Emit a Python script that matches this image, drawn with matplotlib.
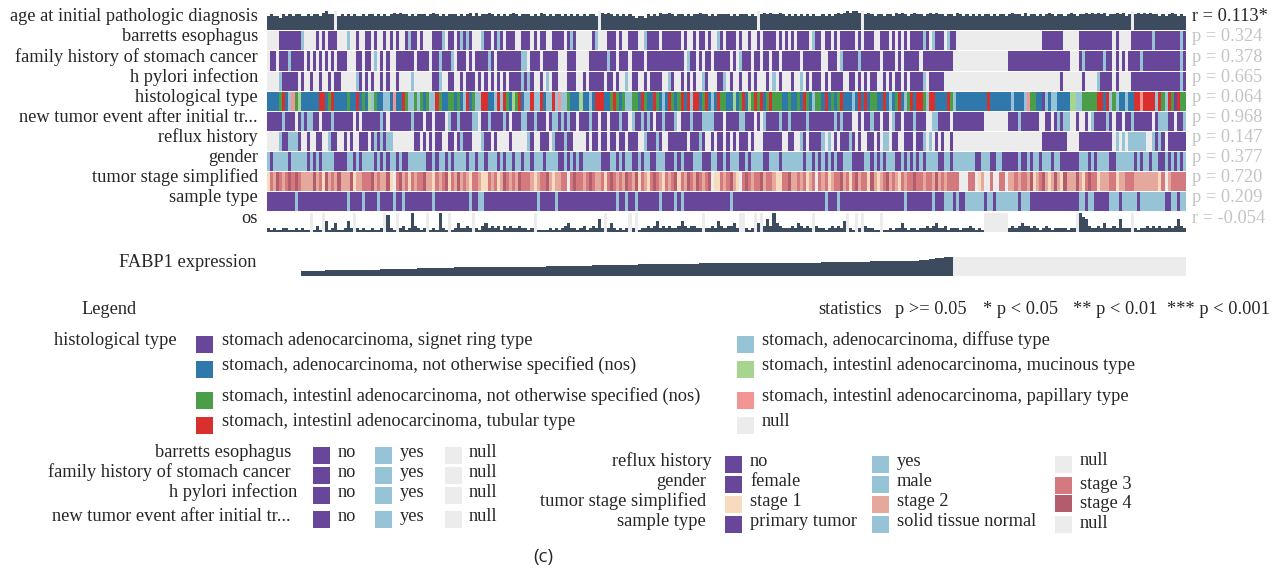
import numpy as np
import matplotlib
matplotlib.use("Agg")
import matplotlib.pyplot as plt
from matplotlib.colors import to_rgb
from matplotlib.patches import Rectangle

# ------------------------------------------------------------------
# DATA (~300 samples sorted by FABP1 expression)
# ------------------------------------------------------------------
row_labels = ["age at initial pathologic diagnosis", "barretts esophagus",
              "family history of stomach cancer", "h pylori infection",
              "histological type", "new tumor event after initial tr...",
              "reflux history", "gender", "tumor stage simplified",
              "sample type", "os"]
row_stats = ["r = 0.113*", "p = 0.324", "p = 0.378", "p = 0.665", "p = 0.064",
             "p = 0.968", "p = 0.147", "p = 0.377", "p = 0.720", "p = 0.209",
             "r = -0.054"]
row_significant = [True, False, False, False, False, False, False, False, False, False, False]

# age: relative bar height level 0-9, '.' = null
age = "".join([
    "6766576767", "7667677689", "77.6767676", "6767767676", "7878776767", "7767876767",
    "7767678686", "7787676767", "8767776768", "7676776767", "67676776.8", "7876767676",
    "5665767687", "7876776767", "7877676777", "7676777676", ".787877876", "7676767676",
    "6767678789", "8998.78767", "7677687876", "7877678787", "7677687676", "7676776767",
    "7678776867", "7676787677", "6787677878", "7878677878", "67.7878787", "7676787676"])

# binary rows: n = no, y = yes, . = null
barretts = "".join([
    "....nnnnnn", "ny....n.n.", "nnn...y..n", "..nn.n..n.", "n.n..nynn.", "n...nnny.n",
    "n.nynyn...", "ynn.nyn.nn", "n..nnn.n.n", "n..nnnn.ny", "n.....ny..", ".nnn.n..nn",
    "n..ynnnn.n", "nnnnn.n..n", ".nn.n..yn.", "nnn.n..n..", "n.nnnn.n.n", ".n.nnnn.yn",
    "n.nn.n.nnn", "nn.n.nnn..", "nnn.n.n.n.", "nnnnyn.ynn", "n.ynn.....", "..........",
    "..........", "...nnnnnnn", ".....nnnnn", "nnnnnn.n..", "..nnnnnnny", "nnnnnnnnyn"])
family = "".join([
    ".nn.nnnynn", "nn.n.n.n.n", ".n.nnn...n", "n.nn.y.n.n", "..nnnnnn.n", "nnn.nnynnn",
    "y.nnn.n.nn", "nnyn.nnnnn", "nnnyy.nnn.", "nnnnn...nn", "n....nnnnn", "nynn.nnn.n",
    "nnn.nnnnnn", "nnnnnn.ynn", ".n.nn.nnnn", "n.n.ynnn.n", "n.nn.nn.nn", "nnnn.nnnnn",
    "n..nnn.ynn", "nnnynnnnnn", ".nnnn.n.nn", "nnn.nnnnnn", "nnnn......", "..........",
    "..nnnnnnnn", "nnnnnnnnnn", "nn...nynnn", "nnnynn.n.n", ".nnnnynnnn", "nnnnnnnnyn"])
hpylori = "".join([
    "....ynnnnn", ".n..n..n..", "n.nn.....y", "n.n.n..n.n", "..n....y..", "....nny..n",
    "n..n.nnn.n", ".n.n.n.n.n", "nnnynyn..n", ".y.nn...nn", "n..n.nnnnn", ".nn.n..y.n",
    "n..n.nnnn.", ".yn..n.n.n", "..yn...nny", ".n..n..n.n", "...n.y.n..", ".n..y.n.nn",
    "n.n.nnnn..", "nn.n.n.nn.", ".n.n.nn.n.", "nnnny.nnnn", "n.........", "..........",
    "..........", ".........n", "......n...", ".ynnnn.n..", "..nnnnnnnn", "nnnnnnnnyn"])
# histology: S signet ring, N adeno NOS, D diffuse, M mucinous, I intestinal NOS,
#            P papillary, T tubular, . null
histology = "".join([
    "NNNNITNDPI", "MNNNNNNTTN", "ITNNNNINNT", "NINMDINNDD", "NPNNTIDDID", "INIDDTINNI",
    "ININDTNIDD", "TTNNDTDTIN", "MITNDDTDDT", "NDDTDPDDIN", "NNMNNDNTTT", "NNITINIDDI",
    "INTINNTIND", "NTINITNTDT", "TNITNDNTII", "NNMNITNMIT", "ITNITIIINN", "INNINTINDI",
    "INTNINITNN", "NDNTNTNIIN", "NTNDNITNDI", "TNTTIDTTNN", "NNTIDNNNNN", "NNNNNTNNNN",
    "NNNDNNNDPI", "INNSDNDDNN", "NNMMDDIIII", "ITTNTDIDNN", "DNNTTPTTTT", "DTIDTISTII"])
new_tumor = "".join([
    "nnnnnynnn.", "nynyynn.nn", "nynnnnnn.n", ".nnnnnnyn.", "nnnnnnnynn", "n.nn.nnn.y",
    "nnynnnnyy.", "nnynnnnyn.", "nnnyynnynn", "n.nyynynyn", "n.nnnynn.n", "n.nnnynn.y",
    "nnynyn.nny", "nnny.nnnyn", "nnyyyynnn.", "nnnnyynnn.", "n.ynnnnynn", "ynnnnnynnn",
    "nnnnnynynn", "n..n.nnynn", ".nn.ynn.nn", "nynnn..yyn", "nnn.nnnnnn", "nnnn......",
    "..nnnynnnn", "nn..nn.nyn", "yy..n..n.y", "nnnnyn.nn.", "nnynnnnnn.", "nyyynn.nny"])
reflux = "".join([
    "....ynnyyy", "n..n..nn..", "ynn..n.n..", "nnn.nynyny", "y.......nn", ".n.n.nn..n",
    "n.nynnn...", "ynn.n....n", ".....yn..n", "nn.ynnnynn", "....n.nn.n", "n.nn.nn.nn",
    "n..ynnnyn.", ".nnnnnn.nn", "nyn..n.nn.", "n.n.nnn.n.", "..nnnnnn..", "nn..yn.nnn",
    "ny.y.n.nnn", "yn.n..nn.n", ".yy.nn..nn", "n.nny.y.n.", "n..n......", "..........",
    "..........", "...nnnnnnn", "n....nnnnn", "nnnnnn.y.y", ".yyyyyy..y", "nyn.nnnnnn"])
# gender: f = female, m = male
gender = "".join([
    "mfmmmmmfmm", "mmmfmfmfmm", "mmffffmmfm", "fmmmmfmfmf", "mmfmffmmmm", "mmffmfmmfm",
    "fmmmmfmmfm", "mfmmmfmfmm", "fmmfmmfmmm", "fmmmmffmfm", "fmfmmmmmmf", "ffmmfmfmmf",
    "fmfmmffmmm", "fffmfmfffm", "mmfffmmffm", "fmmmffmfmm", "mmffmmmfmm", "mmmmmfmmfm",
    "fmfmfmffmm", "mffffmmfmf", "mfmmmffmfm", "fmfmfmmmmf", "fmmfmmmmmm", "mffmmmffmm",
    "fffffmffmf", "mmfmmmfmmf", "fffffmmmfm", "fmmmmffmmm", "mmmfmfmmfm", "mffmfmfmfm"])
# tumor stage simplified: 1-4, . = null
stage = "".join([
    "1324323434", "3222242314", "2324222412", "2333423224", "1.34231323", "3422132341",
    "3242321332", "1132312432", "3243332123", "34212233.3", "4332343223", "1343232432",
    "4132134321", "3234132432", "43234.1132", "3421.34323", "3423321133", "422323123.",
    "3231233423", "1342331421", "2342321323", "3433233242", "323333...3", "3.12..3..3",
    "3.22323324", "1234212421", "4222421343", "3122233122", "3332222222", "213.233333"])
# sample type: p = primary tumor, s = solid tissue normal
sample_type = "".join([
    "ppppppppps", "pppppppppp", "ppppppsppp", "psppppsppp", "psppsppppp", "ppppsppppp",
    "ppppppspps", "sppppppppp", "ppppppppsp", "ppppsppppp", "pppppppppp", "ppppsppspp",
    "spppppppsp", "pppspspppp", "pppppppppp", "pspppppppp", "pppppppppp", "pppppppppp",
    "ppspppsppp", "pppppppppp", "ppppppppsp", "pppppppspp", "pssspsppss", "sssspsspss",
    "ssssspsssp", "pppppppppp", "pppppsspss", "pppppsssps", "sssspsssss", "sssppsspss"])
# os: relative bar height level 0-9, '.' = null
os_levels = "".join([
    "2121122112", "1211.131.5", "12411252.2", "12112112.8", "21.2312932", "12.121921.",
    "1242232.21", "3423231323", "2232212.11", "1121212342", "2123123262", ".2421212.2",
    ".122323523", "2322353233", "22.2232532", "3342..212.", "4.36394322", "23243232.3",
    "221232325.", "21.2.32211", ".112122421", "2212232342", "2312221223", "2121......",
    "..23234332", "3212321222", "2122.97632", "2324223262", "22.2122323", "2322323632"])
# FABP1 expression (sorted): run-length pairs (level a..z, count); '.' = null
fabp1_runs = [("a", 11), ("g", 8), ("h", 6), ("i", 12), ("j", 12), ("k", 12),
              ("l", 15), ("m", 15), ("n", 15), ("o", 15), ("p", 20), ("q", 20),
              ("r", 20), ("s", 16), ("t", 16), ("u", 1), ("v", 2), ("w", 2),
              ("x", 3), ("y", 3), (".", 76)]

# ------------------------------------------------------------------
# STYLE
# ------------------------------------------------------------------
PURPLE = "#68479a"
LBLUE = "#96c3d6"
NULLC = "#ececec"
DARK = "#3d4b5e"
NOS = "#2e78ab"
INTC = "#4a9e48"
MUC = "#a6d58f"
PAP = "#f39595"
TUB = "#d9302e"
ST1, ST2, ST3, ST4 = "#f7dbbf", "#e5a89d", "#d4797e", "#b25c6e"
TXT = "#262626"
GREY_TXT = "#c4c4c4"

bin_cmap = {"n": PURPLE, "y": LBLUE, ".": NULLC}
hist_cmap = {"S": PURPLE, "N": NOS, "D": LBLUE, "M": MUC, "I": INTC,
             "P": PAP, "T": TUB, ".": NULLC}
gender_cmap = {"f": PURPLE, "m": LBLUE, ".": NULLC}
stage_cmap = {"1": ST1, "2": ST2, "3": ST3, "4": ST4, ".": NULLC}
sample_cmap = {"p": PURPLE, "s": LBLUE, ".": NULLC}

plt.rcParams["font.family"] = ["Liberation Serif", "DejaVu Serif"]
FS = 13.2

W, H = 1282, 573
fig = plt.figure(figsize=(W / 100, H / 100), dpi=100)

# overlay axes in pixel coordinates for texts and legend swatches
ov = fig.add_axes([0, 0, 1, 1])
ov.set_xlim(0, W)
ov.set_ylim(H, 0)
ov.set_axis_off()


def px_axes(x0, y0, x1, y1):
    ax = fig.add_axes([x0 / W, 1 - y1 / H, (x1 - x0) / W, (y1 - y0) / H])
    ax.set_axis_off()
    return ax


X0, X1 = 267, 1186


def cat_row(y0, y1, codes, cmap):
    ax = px_axes(X0, y0, X1, y1)
    rgb = np.array([to_rgb(cmap.get(c, NULLC)) for c in codes])[None, :, :]
    ax.imshow(rgb, aspect="auto", interpolation="nearest",
              extent=[0, len(codes), 0, 1])
    ax.set_xlim(0, len(codes))
    ax.set_ylim(0, 1)


def bar_row(y0, y1, levels, base=0.0, step=1 / 9.0):
    ax = px_axes(X0, y0, X1, y1)
    idx = np.arange(len(levels))
    null = np.array([c == "." for c in levels])
    h = np.array([0 if c == "." else min(1.0, base + int(c) * step) for c in levels])
    ax.bar(idx[null], np.ones(null.sum()), width=1.0, align="edge",
           color=NULLC, linewidth=0, antialiased=False)
    ax.bar(idx[~null], h[~null], width=1.0, align="edge",
           color=DARK, linewidth=0, antialiased=False)
    ax.set_xlim(0, len(levels))
    ax.set_ylim(0, 1)


# rows geometry (pixel)
age_box = (11, 30)
cat_rows = [barretts, family, hpylori, histology, new_tumor, reflux,
            gender, stage, sample_type]
cat_maps = [bin_cmap, bin_cmap, bin_cmap, hist_cmap, bin_cmap, bin_cmap,
            gender_cmap, stage_cmap, sample_cmap]
os_box = (212.7, 232)

bar_row(*age_box, age, base=0.2, step=0.09)
centers = [(age_box[0] + age_box[1]) / 2]
for k, (codes, cm) in enumerate(zip(cat_rows, cat_maps)):
    y0 = 31.3 + 20.1 * k
    y1 = y0 + 19.2
    cat_row(y0, y1, codes, cm)
    centers.append((y0 + y1) / 2)
bar_row(*os_box, os_levels)
centers.append((os_box[0] + os_box[1]) / 2)

for lab, stat, sig, yc in zip(row_labels, row_stats, row_significant, centers):
    ov.text(258, yc + 0.5, lab, ha="right", va="baseline", fontsize=FS, color=TXT)
    ov.text(1192, yc + 0.5, stat, ha="left", va="baseline", fontsize=FS,
            color=TXT if sig else GREY_TXT)

# FABP1 expression row
fabp1 = "".join(c * n for c, n in fabp1_runs)
axf = px_axes(X0, 256.7, X1, 276.3)
fi = np.arange(len(fabp1))
fnull = np.array([c == "." for c in fabp1])
fh = np.array([0 if c == "." else (ord(c) - ord("a") + 1) / 26.0 for c in fabp1])
axf.bar(fi[fnull], np.ones(fnull.sum()), width=1.0, align="edge",
        color=NULLC, linewidth=0, antialiased=False)
axf.bar(fi[~fnull], fh[~fnull], width=1.0, align="edge", color=DARK,
        linewidth=0)
axf.set_xlim(0, len(fabp1))
axf.set_ylim(0, 1)
ov.text(256, 266.7, "FABP1 expression", ha="right", va="baseline",
        fontsize=FS, color=TXT)

# ------------------------------------------------------------------
# LEGEND
# ------------------------------------------------------------------
ov.text(81, 313.5, "Legend", ha="left", va="baseline", fontsize=FS, color=TXT)
for x, s in [(818, "statistics"), (895, "p >= 0.05"), (983, "* p < 0.05"),
             (1073, "** p < 0.01"), (1167, "*** p < 0.001")]:
    ov.text(x, 313.5, s, ha="left", va="baseline", fontsize=FS, color=TXT)


def swatch(x, y, color, w=16.5, h=16.5):
    ov.add_patch(Rectangle((x, y), w, h, facecolor=color, edgecolor="none"))


ov.text(177, 345, "histological type", ha="right", va="baseline",
        fontsize=FS, color=TXT)
hist_left = [("stomach adenocarcinoma, signet ring type", PURPLE),
             ("stomach, adenocarcinoma, not otherwise specified (nos)", NOS),
             ("stomach, intestinl adenocarcinoma, not otherwise specified (nos)", INTC),
             ("stomach, intestinl adenocarcinoma, tubular type", TUB)]
hist_right = [("stomach, adenocarcinoma, diffuse type", LBLUE),
              ("stomach, intestinl adenocarcinoma, mucinous type", MUC),
              ("stomach, intestinl adenocarcinoma, papillary type", PAP),
              ("null", NULLC)]
sq_tops = [336, 361, 392, 417]
txt_base = [345, 370, 401, 426]
for (lab, col), yt, yb in zip(hist_left, sq_tops, txt_base):
    swatch(196, yt, col)
    ov.text(222, yb, lab, ha="left", va="baseline", fontsize=FS, color=TXT)
for (lab, col), yt, yb in zip(hist_right, sq_tops, txt_base):
    swatch(737, yt, col)
    ov.text(762, yb, lab, ha="left", va="baseline", fontsize=FS, color=TXT)

# binary legends (left block)
bin_labels = ["barretts esophagus", "family history of stomach cancer",
              "h pylori infection", "new tumor event after initial tr..."]
bin_label_x = [291, 291, 297, 291]
bin_tops = [447, 467, 487, 511]
for lab, lx, yt in zip(bin_labels, bin_label_x, bin_tops):
    yb = yt + 10
    ov.text(lx, yb, lab, ha="right", va="baseline", fontsize=FS, color=TXT)
    swatch(313, yt, PURPLE)
    ov.text(338, yb, "no", ha="left", va="baseline", fontsize=FS, color=TXT)
    swatch(375, yt, LBLUE)
    ov.text(400, yb, "yes", ha="left", va="baseline", fontsize=FS, color=TXT)
    swatch(445, yt, NULLC)
    ov.text(469, yb, "null", ha="left", va="baseline", fontsize=FS, color=TXT)

# right block
rb_labels = ["reflux history", "gender", "tumor stage simplified", "sample type"]
rb_label_x = [712, 706, 706, 706]
rb_tops = [456, 476, 496, 516]
rb_c1 = [("no", PURPLE), ("female", PURPLE), ("stage 1", ST1), ("primary tumor", PURPLE)]
rb_c2 = [("yes", LBLUE), ("male", LBLUE), ("stage 2", ST2), ("solid tissue normal", LBLUE)]
for lab, lx, yt, c1, c2 in zip(rb_labels, rb_label_x, rb_tops, rb_c1, rb_c2):
    yb = yt + 9.5
    ov.text(lx, yb, lab, ha="right", va="baseline", fontsize=FS, color=TXT)
    swatch(725, yt, c1[1])
    ov.text(750, yb, c1[0], ha="left", va="baseline", fontsize=FS, color=TXT)
    swatch(872, yt, c2[1])
    ov.text(897, yb, c2[0], ha="left", va="baseline", fontsize=FS, color=TXT)
rb_c3 = [("null", NULLC, 456, 465), ("stage 3", ST3, 477, 489),
         ("stage 4", ST4, 495, 508), ("null", NULLC, 516, 528)]
for lab, col, yt, yb in rb_c3:
    swatch(1055, yt, col)
    ov.text(1080, yb, lab, ha="left", va="baseline", fontsize=FS, color=TXT)

ov.text(543, 562, "(c)", ha="center", va="baseline", fontsize=13.5,
        color=TXT, family=["Open Sans", "DejaVu Sans"])

fig.savefig("out.png", dpi=100)
